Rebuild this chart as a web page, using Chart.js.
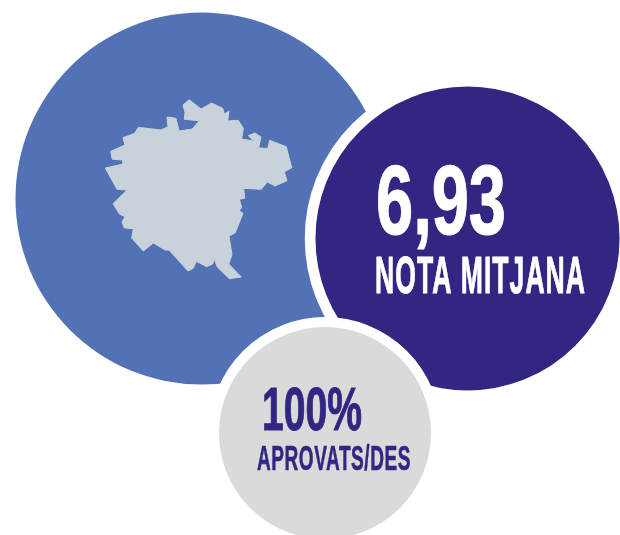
<!DOCTYPE html>
<html>
<head>
<meta charset="utf-8">
<title>Nota mitjana</title>
<script src="https://cdn.jsdelivr.net/npm/chart.js@4/dist/chart.umd.min.js"></script>
<style>
  html, body { margin: 0; padding: 0; background: #fff; }
  canvas { display: block; }
</style>
</head>
<body>
<canvas id="chart" width="620" height="535"></canvas>
<script>
    // bubbles, back to front: city, average mark, passed
    var bubbleX = [201.5, 467.5, 325];
    var bubbleY = [198.5, 238.5, 433];
    var bubbleR = [186, 157.4, 111];
    var bubbleBorder = [0, 10.7, 10];
    var bubbleColors = ['#5371b5', '#312782', '#dadada'];

    // city outline
    var mapX = [189.3, 201, 211.7, 222.7, 224.3, 229, 227.7, 238.3, 243.3, 241.7, 253.7, 248.3, 255, 261, 258.7, 267.7, 269.7, 286.3, 291.7, 284.3, 287, 275, 267.3, 261.3, 243.7, 244.7, 239.3, 241.7, 239.3, 243, 235.3, 229, 232, 228.7, 241.3, 229.3, 217.3, 214.3, 212.7, 206.7, 196.3, 193.3, 188, 169, 165, 163, 153.3, 143.3, 131.7, 133.3, 124.3, 122, 125, 119.7, 113, 127, 117, 105.3, 122, 122.7, 112.3, 110.7, 125, 123, 134.7, 138.3, 161, 168, 167, 176, 179, 192.3, 199.3, 184.3, 185, 183, 189.3];
    var mapY = [99.7, 109, 103, 108.3, 114, 111.3, 121, 120.3, 128.3, 139, 141, 135.7, 133, 137, 147.7, 148.7, 140.3, 146.7, 167.7, 172, 180.7, 186, 182, 189.3, 188.3, 198.3, 199.3, 207.3, 210.7, 213.3, 232.7, 236.3, 254.7, 264, 277, 278.7, 267, 259, 264, 266.7, 261.3, 268.3, 271, 250, 250, 248.7, 243, 251, 238, 228.7, 228, 222, 216.7, 214.3, 203.7, 190, 189.3, 168, 164.3, 160, 159.3, 151.3, 145, 137.7, 133.3, 127.3, 130, 126.7, 117, 118.3, 131, 129, 120.7, 119.3, 112.3, 105, 99.7];

    var labelTexts = ['6,93', 'NOTA MITJANA', '100%', 'APROVATS/DES'];
    var labelX = [376, 375, 262, 257];
    var labelBase = [233.5, 292.5, 430, 470];
    var labelWidth = [130, 211, 100, 154];
    var labelSize = [99, 52, 61, 35];
    var labelStroke = [1.2, 1, 1, 0.6];
    var labelSpacing = ['0px', '2px', '0px', '1px'];
    var labelColors = ['#ffffff', '#ffffff', '#312782', '#312782'];

    function getPoints(xs, ys) {
        var output = [];

        for(var i = 0; i < xs.length; i++) {
            output.push({x: xs[i], y: ys[i]});
        }
        return output;
    }

    var bubbles = getPoints(bubbleX, bubbleY);
    for(var i = 0; i < bubbles.length; i++) {
        bubbles[i].r = bubbleR[i];
    }

    // the plot has to fill the canvas, big bubbles are simply cut at the edge
    function noOverflow() {
        return 0;
    }
    Chart.BubbleController.prototype.getMaxOverflow = noOverflow;
    Chart.LineController.prototype.getMaxOverflow = noOverflow;

    // condensed lettering, squeezed to the measured width
    var labelsPlugin = {
        id: 'labels',
        afterDatasetsDraw: function(chart) {
            var ctx = chart.ctx;
            var xs = chart.scales.x;
            var ys = chart.scales.y;

            for(var i = 0; i < labelTexts.length; i++) {
                ctx.save();
                ctx.font = 'bold ' + labelSize[i] + 'px "Liberation Sans Narrow", "Liberation Sans", sans-serif';
                ctx.letterSpacing = labelSpacing[i];
                ctx.fillStyle = labelColors[i];
                ctx.strokeStyle = labelColors[i];
                ctx.lineWidth = labelStroke[i];
                ctx.lineJoin = 'round';
                ctx.textBaseline = 'alphabetic';
                ctx.textAlign = 'left';
                var w = ctx.measureText(labelTexts[i]).width;
                ctx.translate(xs.getPixelForValue(labelX[i]), ys.getPixelForValue(labelBase[i]));
                ctx.scale(labelWidth[i] / w, 1);
                ctx.fillText(labelTexts[i], 0, 0);
                ctx.strokeText(labelTexts[i], 0, 0);
                ctx.restore();
            }
        }
    };

    var ctx = document.getElementById('chart').getContext('2d');

    var bubbleChart = new Chart(ctx, {
        type: 'bubble',
        data: {
            datasets: [{
                type: 'line',
                data: getPoints(mapX, mapY),
                backgroundColor: '#c8d2db',
                borderColor: '#c8d2db',
                borderWidth: 1,
                pointRadius: 0,
                tension: 0,
                fill: 'shape'
            }, {
                data: bubbles,
                backgroundColor: bubbleColors,
                borderColor: '#ffffff',
                borderWidth: bubbleBorder,
                hoverRadius: 0
            }]
        },
        options: {
            responsive: false,
            animation: false,
            events: [],
            layout: { padding: 0 },
            plugins: {
                legend: { display: false },
                tooltip: { enabled: false },
                filler: { drawTime: 'beforeDatasetDraw' }
            },
            scales: {
                x: { type: 'linear', display: false, min: 0, max: 620 },
                y: { type: 'linear', display: false, min: 0, max: 535, reverse: true }
            }
        },
        plugins: [labelsPlugin]
    });
</script>
</body>
</html>
